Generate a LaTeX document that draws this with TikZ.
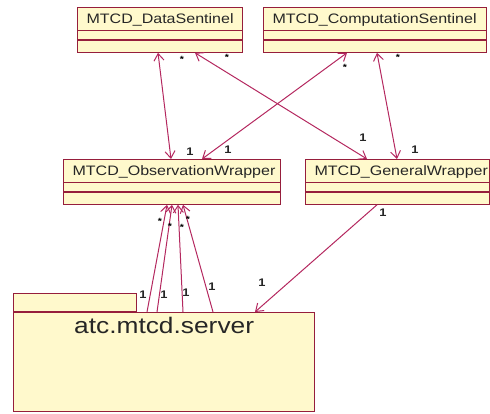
\documentclass[tikz,border=0pt]{standalone}
\usepackage{fontspec}
\setmainfont{Liberation Sans}
\newfontfamily\umlfont[FakeStretch=1.17]{Liberation Sans}
\usetikzlibrary{arrows.meta, positioning, shapes.multipart}
\definecolor{umlfill}{RGB}{255,249,204}
\definecolor{umlborder}{RGB}{150,30,60}
\definecolor{umlline}{RGB}{180,40,95}
\tikzset{x=1pt, y=-1pt,
  classbox/.style={rectangle split, rectangle split parts=3, draw=umlborder, fill=umlfill,
    line width=1.2pt, inner xsep=9pt, inner ysep=0.5pt, text width=#1, align=left,
    font=\umlfont\fontsize{13.7}{16}\selectfont, text=black!85, anchor=north west},
  pkgbox/.style={draw=umlborder, fill=umlfill, line width=1.2pt, inner sep=0pt},
  assoc/.style={draw=umlline, line width=1pt},
  tip/.style={-{Straight Barb[length=7pt,width=10pt]}},
  both/.style={{Straight Barb[length=7pt,width=10pt]}-{Straight Barb[length=7pt,width=10pt]}},
  mult/.style={font=\umlfont\bfseries\fontsize{11}{12}\selectfont, text=black!85, inner sep=0pt},
  star/.style={font=\umlfont\bfseries\fontsize{9}{10}\selectfont, inner sep=0pt}
}
\newcommand{\classparts}[1]{\rule[-6pt]{0pt}{21pt}#1\nodepart{second}\rule{0pt}{7pt}\nodepart{third}\rule{0pt}{10pt}}
\begin{document}
\begin{tikzpicture}
\useasboundingbox (0,0) rectangle (490,413);
%% classes
  \node[classbox=147pt] (ds) at (77,7) {\classparts{MTCD\_DataSentinel}};
  \node[classbox=205pt] (cs) at (263,7) {\classparts{MTCD\_ComputationSentinel}};
  \node[classbox=199pt] (ow) at (63,159) {\classparts{MTCD\_ObservationWrapper}};
  \node[classbox=166pt] (gw) at (305,159) {\classparts{MTCD\_GeneralWrapper}};
%% package
  \node[pkgbox, anchor=north west, minimum width=301pt, minimum height=99pt] (pkg) at (13,312) {};
  \node[pkgbox, anchor=south west, minimum width=123pt, minimum height=18pt] (tab) at (pkg.north west) {};
  \node[below=5pt of pkg.north, inner sep=0pt, font=\umlfont\fontsize{22.5}{26}\selectfont, text=black!85] (pkgname) {atc.mtcd.server};
%% sentinels to wrappers
  \draw[assoc, both] ([xshift=81]ds.south west) -- ([xshift=108]ow.north west);
  \draw[assoc, both] ([xshift=118]ds.south west) -- ([xshift=62]gw.north west);
  \draw[assoc, both] ([xshift=84]cs.south west) -- ([xshift=139]ow.north west);
  \draw[assoc, both] ([xshift=114]cs.south west) -- ([xshift=92]gw.north west);
	\node[star] (s1) at (182,59) {*};
	\node[star] (s2) at (227,57) {*};
	\node[star] (s3) at (345,67) {*};
	\node[star] (s4) at (398,57) {*};
	\node[mult] (m1) at (190,152) {1};
	\node[mult] (m2) at (363,138) {1};
	\node[mult] (m3) at (228,150) {1};
	\node[mult] (m4) at (415,150) {1};
%% package to wrappers
  \draw[assoc, tip] ([xshift=134]pkg.north west) -- ([xshift=104]ow.south west);
  \draw[assoc, tip] ([xshift=144]pkg.north west) -- ([xshift=109]ow.south west);
  \draw[assoc, tip] ([xshift=170]pkg.north west) -- ([xshift=115]ow.south west);
  \draw[assoc, tip] ([xshift=200]pkg.north west) -- ([xshift=120]ow.south west);
  \draw[assoc, tip] ([xshift=72]gw.south west) -- ([xshift=242]pkg.north west);
	\node[star] (s5) at (160,221) {*};
	\node[star] (s6) at (170,226) {*};
	\node[star] (s7) at (182,227) {*};
	\node[star] (s8) at (188,219) {*};
	\node[mult] (m5) at (143,295) {1};
	\node[mult] (m6) at (164,295) {1};
	\node[mult] (m7) at (186,293) {1};
	\node[mult] (m8) at (212,287) {1};
	\node[mult] (m9) at (383,213) {1};
	\node[mult] (m10) at (262,283) {1};
\end{tikzpicture}
\end{document}
